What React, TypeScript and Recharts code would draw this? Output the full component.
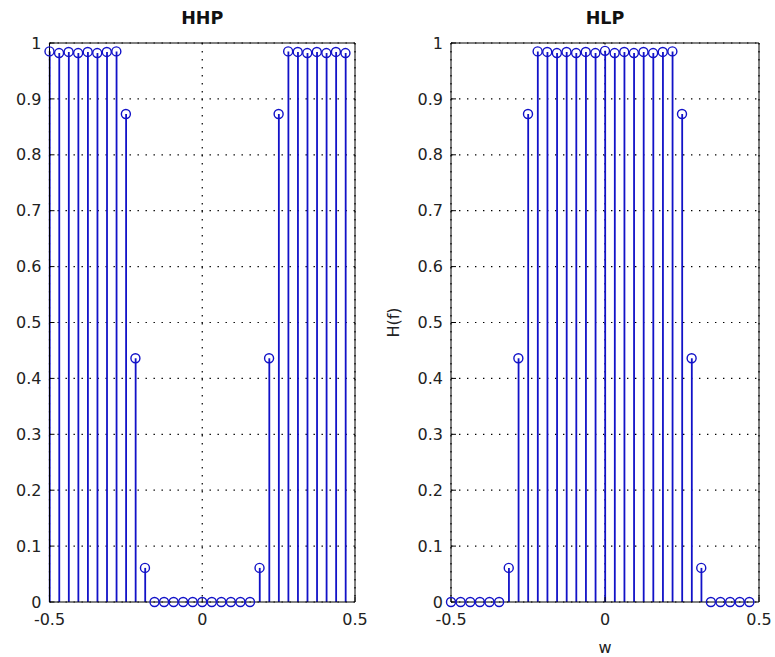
import React from "react";
import {
  ComposedChart,
  Bar,
  Scatter,
  XAxis,
  YAxis,
  CartesianGrid,
} from "recharts";

// normalised frequency w, 32 samples from -0.5 to 0.5
const wValues = [
  -0.5, -0.46875, -0.4375, -0.40625, -0.375, -0.34375, -0.3125, -0.28125,
  -0.25, -0.21875, -0.1875, -0.15625, -0.125, -0.09375, -0.0625, -0.03125,
  0, 0.03125, 0.0625, 0.09375, 0.125, 0.15625, 0.1875, 0.21875,
  0.25, 0.28125, 0.3125, 0.34375, 0.375, 0.40625, 0.4375, 0.46875,
];

const hhpValues = [
  0.985, 0.982, 0.984, 0.982, 0.984, 0.982, 0.984, 0.985,
  0.873, 0.436, 0.061, 0, 0, 0, 0, 0,
  0, 0, 0, 0, 0, 0, 0.061, 0.436,
  0.873, 0.985, 0.984, 0.982, 0.984, 0.982, 0.984, 0.982,
];

const hlpValues = [
  0, 0, 0, 0, 0, 0, 0.061, 0.436,
  0.873, 0.985, 0.984, 0.982, 0.984, 0.982, 0.984, 0.982,
  0.986, 0.982, 0.984, 0.982, 0.984, 0.982, 0.984, 0.985,
  0.873, 0.436, 0.061, 0, 0, 0, 0, 0,
];

const xTicks = [-0.5, 0, 0.5];
const yTicks = [0, 0.1, 0.2, 0.3, 0.4, 0.5, 0.6, 0.7, 0.8, 0.9, 1];

const STEM = "#1212c8";
const FONT = "DejaVu Sans, Liberation Sans, sans-serif";
const tickStyle = { fill: "#222", fontSize: 16, fontFamily: FONT };

const fmt = (v: number) => (v === 0 ? "0" : String(v));

const Stem = (props: any) => {
  const { x, y, width, height } = props;
  const cx = x + width / 2;
  return <line x1={cx} x2={cx} y1={y} y2={y + height} stroke={STEM} strokeWidth={1.8} />;
};

const Marker = (props: any) => {
  const { cx, cy } = props;
  return <circle cx={cx} cy={cy} r={4.5} fill="none" stroke={STEM} strokeWidth={1.4} />;
};

type PanelProps = {
  title: string;
  values: number[];
  width: number;
  leftW: number;
  rightW: number;
  yLabel?: string;
  xLabel?: string;
};

const StemPanel = ({ title, values, width, leftW, rightW, yLabel, xLabel }: PanelProps) => {
  const data = wValues.map((w, i) => ({ w, h: values[i] }));
  return (
    <ComposedChart
      width={width}
      height={657}
      data={data}
      margin={{ top: 0, right: 0, bottom: 0, left: 0 }}
    >
      <CartesianGrid stroke="#000" strokeWidth={1.2} strokeDasharray="1.4 6.6" />
      <XAxis
        dataKey="w"
        type="number"
        domain={[-0.5, 0.5]}
        ticks={xTicks}
        tickFormatter={fmt}
        height={55}
        stroke="#000"
        tickSize={-5}
        tickMargin={17}
        tick={tickStyle}
        label={
          xLabel
            ? { value: xLabel, position: "insideBottom", offset: 4, style: { fill: "#222", fontSize: 16, fontFamily: FONT } }
            : undefined
        }
      />
      <XAxis
        xAxisId="top"
        dataKey="w"
        type="number"
        orientation="top"
        domain={[-0.5, 0.5]}
        ticks={xTicks}
        height={43}
        stroke="#000"
        tickSize={-5}
        tick={false}
        label={{ value: title, position: "insideTop", offset: 12, style: { fill: "#111", fontSize: 17.5, fontWeight: "bold", fontFamily: FONT } }}
      />
      <YAxis
        type="number"
        domain={[0, 1]}
        ticks={yTicks}
        tickFormatter={fmt}
        width={leftW}
        stroke="#000"
        tickSize={-5}
        tickMargin={13}
        tick={tickStyle}
        label={
          yLabel
            ? { value: yLabel, angle: -90, position: "insideLeft", offset: 13, style: { textAnchor: "middle", fill: "#222", fontSize: 16, fontFamily: FONT } }
            : undefined
        }
      />
      <YAxis
        yAxisId="right"
        orientation="right"
        type="number"
        domain={[0, 1]}
        ticks={yTicks}
        width={rightW}
        stroke="#000"
        tickSize={-5}
        tick={false}
      />
      <Bar dataKey="h" barSize={2} shape={<Stem />} isAnimationActive={false} />
      <Scatter dataKey="h" shape={<Marker />} isAnimationActive={false} />
    </ComposedChart>
  );
};

export default function App() {
  return (
    <div style={{ position: "absolute", left: 0, top: 0, width: 775, height: 657, background: "#fff" }}>
      <div style={{ position: "absolute", left: 0, top: 0 }}>
        <StemPanel title="HHP" values={hhpValues} width={380} leftW={49.5} rightW={25} />
      </div>
      <div style={{ position: "absolute", left: 380, top: 0 }}>
        <StemPanel title="HLP" values={hlpValues} width={395} leftW={71} rightW={16} yLabel="H(f)" xLabel="w" />
      </div>
    </div>
  );
}
